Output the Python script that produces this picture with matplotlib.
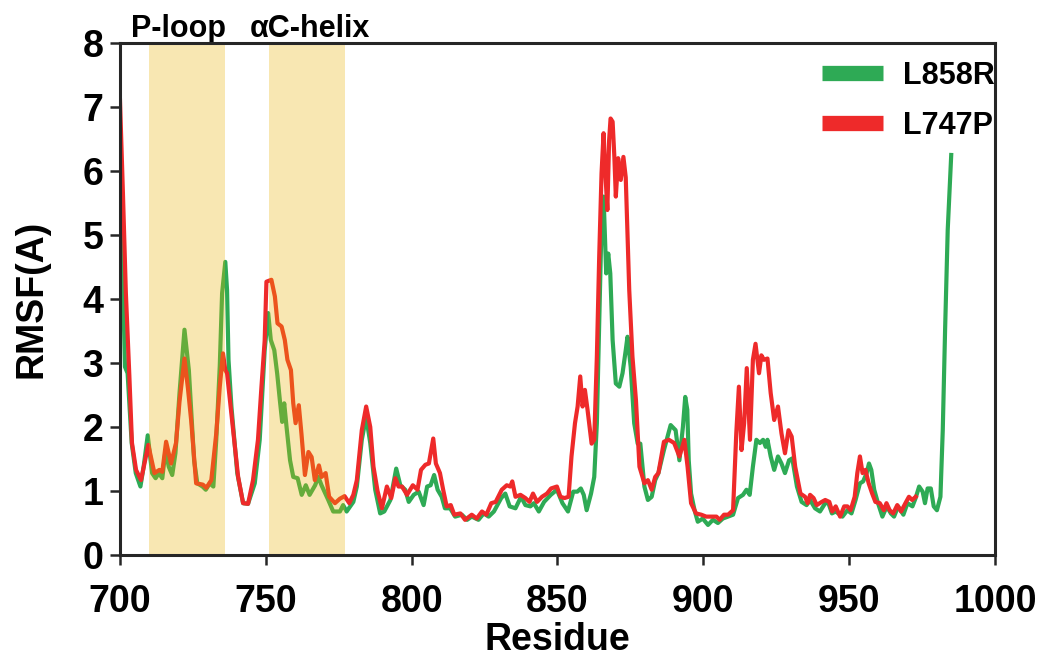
import matplotlib
matplotlib.use("Agg")
import matplotlib.pyplot as plt

# 字体设置
plt.rcParams['font.family'] = ['Liberation Sans', 'DejaVu Sans']
plt.rcParams['font.weight'] = 'bold'
plt.rcParams['axes.labelweight'] = 'bold'

# L747P (red) residue / RMSF
res_l747p = [700, 701, 702, 703.2, 704.1, 705.5, 707.2, 708.4, 709.7, 711.8, 713.5, 714.5, 715.8, 717.5,
             719.2, 720.4, 722.1, 723.3, 724.4, 726.1, 728.4, 729.6, 731.3, 733, 734.2, 735.3, 736.1,
             736.7, 738.8, 740.5, 742.2, 743.9, 745.6, 747.3, 748.5, 749.6, 750.2, 751.9, 753.1, 754,
             755.4, 756.5, 757.4, 758.6, 759.4, 760.2, 761.3, 762.2, 763.4, 764.6, 765.7, 766.8, 768.2,
             769.1, 770.5, 771.7, 773.7, 775.4, 777, 778.6, 780, 781.2, 782.9, 784.4, 785.8, 786.9,
             788.3, 789.8, 791.5, 793, 794.4, 795.5, 796.7, 798.4, 800.4, 802, 803.2, 804.7, 805.9,
             807.4, 808.3, 809.7, 810.8, 812, 813.4, 814.6, 816.7, 818.3, 820.6, 822.3, 824.1, 825.6,
             827.3, 828.8, 830.9, 832.6, 833.8, 834.5, 835.6, 837.3, 839, 840.4, 841.6, 843, 844.7,
             846.4, 847.8, 849.8, 851, 852.4, 853.8, 854.8, 856, 856.9, 857.8, 858.6, 859.4, 860.3,
             861.7, 862.6, 863.5, 864.3, 865.1, 865.8, 866.5, 867.1, 867.7, 868.2, 868.9, 869.5, 870,
             870.8, 871.7, 872.6, 873.4, 874.6, 875.7, 876.9, 878.1, 879.8, 881, 882.3, 883.5, 884.6,
             886.5, 888.2, 890, 891.8, 893.5, 894.6, 895.8, 897.5, 899.3, 901, 902.7, 904.5, 905.6,
             907.1, 908.5, 910.2, 911.3, 912.2, 913.1, 914, 914.9, 916, 917, 917.9, 919.1, 919.9,
             920.8, 922, 923.1, 924.3, 925.6, 926.8, 928, 929.2, 930.3, 931.5, 933.3, 934.9, 935.8,
             936.6, 937.8, 938.9, 940.6, 941.8, 943.2, 944.2, 945.4, 946.9, 948.3, 949.4, 950.5, 951.9,
             952.8, 953.7, 954.6, 955.6, 956.7, 957.9, 959, 960.5, 961.9, 962.8, 963.9, 965.1, 966.5,
             967.8, 969.3, 970.5, 971.6, 972.8]
rmsf_l747p = [7.1, 5.65, 4.1, 2.8, 1.75, 1.33, 1.17, 1.43, 1.72, 1.28, 1.33, 1.3, 1.77, 1.43,
              1.75, 2.4, 3.07, 2.6, 2.1, 1.12, 1.1, 1.05, 1.17, 1.9, 2.63, 3.15, 2.89,
              2.84, 1.95, 1.22, 0.81, 0.8, 1.17, 1.8, 2.63, 3.35, 4.27, 4.3, 4.04, 3.62,
              3.57, 3.36, 3.05, 2.89, 2.37, 2.06, 2.34, 1.9, 1.25, 1.61, 1.53, 1.17, 1.4,
              1.22, 1.28, 0.91, 0.81, 0.88, 0.92, 0.81, 0.94, 1.17, 1.95, 2.32, 2.0, 1.38,
              1.0, 0.73, 1.07, 0.89, 1.2, 1.07, 1.07, 0.94, 1.09, 1.02, 1.33, 1.41, 1.43,
              1.82, 1.43, 1.28, 1.02, 0.76, 0.78, 0.63, 0.65, 0.55, 0.63, 0.57, 0.68, 0.63,
              0.81, 0.83, 1.02, 1.09, 1.07, 1.15, 0.91, 0.94, 0.89, 0.83, 0.96, 0.83, 0.91,
              0.96, 1.04, 1.07, 0.91, 0.89, 0.91, 1.54, 2.06, 2.32, 2.79, 2.32, 2.58, 2.27,
              1.74, 1.8, 3.1, 4.66, 5.96, 6.59, 5.9, 5.39, 6.48, 6.82, 6.77, 6.22, 5.6,
              6.2, 5.86, 6.22, 5.9, 4.14, 3.1, 2.42, 1.38, 1.12, 1.17, 1.02, 1.22, 1.28,
              1.77, 1.8, 1.75, 1.54, 1.8, 1.38, 0.81, 0.65, 0.63, 0.6, 0.6, 0.6, 0.55,
              0.63, 0.63, 0.7, 1.9, 2.63, 1.64, 2.06, 2.92, 1.8, 3.05, 3.3, 2.84, 3.12,
              3.05, 3.07, 2.53, 2.11, 2.32, 1.9, 1.59, 1.95, 1.85, 1.38, 0.96, 0.91, 0.81,
              0.94, 0.89, 0.78, 0.83, 0.86, 0.83, 0.68, 0.76, 0.6, 0.76, 0.76, 0.7, 0.91,
              1.28, 1.54, 1.28, 1.33, 1.12, 0.96, 0.83, 0.81, 0.7, 0.81, 0.7, 0.65, 0.78,
              0.68, 0.81, 0.91, 0.86, 0.91]

# L858R (green)
res_l858r = [700, 701, 701.7, 702.6, 704, 705.4, 707, 708.1, 709.5, 711, 712.2, 713.3, 714.5, 715.6,
             716.7, 717.9, 719, 720.4, 722.1, 723.6, 725.4, 726.5, 728.3, 729.4, 730.8, 732, 733,
             734.2, 735, 736.1, 736.7, 737.2, 738.2, 740.2, 742.2, 743.9, 746.2, 747.9, 749.6, 750.8,
             751.7, 752.9, 753.9, 754.8, 755.6, 756.3, 757.1, 758.3, 759.4, 760.9, 762.3, 763.7, 765,
             766.9, 768, 769.1, 771.4, 773.1, 775.4, 776.5, 777.7, 780, 781.2, 782.9, 784.4, 785.8,
             787.5, 789.2, 790.6, 792.7, 794.7, 796.1, 797.8, 799, 800.7, 802.4, 804.1, 805.3, 806.5,
             807.7, 808.9, 810.3, 811.4, 813.2, 814.9, 817.2, 819, 820.6, 822.9, 824.7, 826.4, 828.2,
             830.7, 832.1, 833.6, 835.6, 837.5, 839, 840.7, 841.9, 843.6, 845.4, 847.7, 849.8, 851.7,
             853.6, 855.4, 856.8, 858, 859, 860, 861.5, 862.6, 863.5, 864.3, 865.1, 865.8, 866.2,
             866.7, 867.4, 868.1, 868.9, 870, 871.2, 872.3, 873.4, 874, 875.1, 876.3, 877.5, 878.4,
             879.8, 881, 882.3, 883.5, 884.6, 886.5, 888.8, 890.5, 891.8, 893, 893.8, 894.5, 895,
             895.8, 897, 898.1, 899.8, 901.6, 903.3, 905, 906.7, 908.5, 910.2, 911.9, 913.6, 914.8,
             915.9, 917, 918.2, 919.4, 920.5, 921.4, 922, 923.1, 924.3, 925.6, 926.8, 928, 929.4,
             930.5, 932.1, 933.7, 935.4, 936.6, 938.3, 940, 941.8, 942.9, 944.1, 945.4, 947.7, 949.4,
             950.8, 952.2, 953.7, 954.8, 956, 956.8, 957.6, 958.6, 959.9, 961.4, 962.9, 964.3, 965.4,
             966.8, 968.6, 970, 971.7, 972.8, 974, 975.2, 976, 976.9, 978, 979, 980.1, 981.3,
             982.1, 982.9, 983.8, 985]
rmsf_l858r = [6.0, 4.3, 2.94, 2.84, 1.75, 1.28, 1.07, 1.38, 1.87, 1.28, 1.2, 1.28, 1.2, 1.64,
              1.38, 1.25, 1.59, 2.53, 3.52, 2.89, 1.48, 1.12, 1.07, 1.02, 1.12, 1.07, 1.8,
              2.95, 4.09, 4.58, 4.14, 3.05, 2.32, 1.28, 0.81, 0.8, 1.12, 1.8, 3.2, 3.78,
              3.36, 3.2, 2.83, 2.42, 2.08, 2.37, 2.0, 1.48, 1.22, 1.2, 0.94, 1.09, 0.94,
              1.09, 1.22, 1.09, 0.86, 0.68, 0.68, 0.78, 0.68, 0.83, 1.07, 1.8, 2.16, 1.75,
              1.02, 0.65, 0.68, 0.86, 1.35, 1.09, 1.02, 0.83, 0.94, 0.99, 0.78, 1.07, 1.09,
              1.25, 1.02, 0.91, 0.73, 0.73, 0.6, 0.63, 0.55, 0.6, 0.55, 0.65, 0.6, 0.68,
              0.89, 0.96, 0.76, 0.73, 0.91, 0.78, 0.76, 0.81, 0.68, 0.83, 0.94, 1.02, 0.81,
              0.68, 0.99, 0.99, 1.04, 0.94, 0.7, 0.96, 1.22, 2.06, 3.62, 5.18, 5.6, 5.07,
              4.4, 4.71, 4.4, 3.36, 2.68, 2.63, 2.84, 3.2, 3.41, 2.94, 2.06, 1.74, 1.74,
              1.07, 0.86, 0.91, 1.17, 1.28, 1.64, 2.03, 1.95, 1.48, 2.0, 2.47, 2.27, 1.48,
              0.96, 0.7, 0.52, 0.57, 0.47, 0.55, 0.5, 0.57, 0.6, 0.63, 0.89, 0.94, 1.02,
              0.94, 1.38, 1.8, 1.75, 1.8, 1.69, 1.8, 1.54, 1.33, 1.54, 1.43, 1.28, 1.48,
              1.51, 1.07, 0.83, 0.78, 0.86, 0.73, 0.68, 0.81, 0.81, 0.65, 0.68, 0.6, 0.7,
              0.65, 0.86, 1.12, 1.15, 1.28, 1.43, 1.33, 1.02, 0.81, 0.6, 0.76, 0.65, 0.6,
              0.76, 0.63, 0.81, 0.76, 0.89, 1.07, 0.99, 0.81, 1.04, 1.04, 0.76, 0.7, 0.91,
              1.95, 3.52, 5.08, 6.25]

# 高亮区域
regions = [(710, 736), (751, 777)]
region_names = ['P-loop', 'αC-helix']
region_label_x = [720, 765]

green = '#2eaa55'
red = '#ee2a2a'

fig = plt.figure(figsize=(10.4, 6.58), dpi=100)
ax = fig.add_axes([0.1154, 0.1565, 0.8413, 0.7782])

ax.plot(res_l858r, rmsf_l858r, color=green, lw=3, label='L858R', zorder=2)
ax.plot(res_l747p, rmsf_l747p, color=red, lw=3, label='L747P', zorder=2)

# shaded bands sit on top of the lines
for (a, b), name, lx in zip(regions, region_names, region_label_x):
    ax.axvspan(a, b, color='#e8b200', alpha=0.3, lw=0, zorder=3)
    ax.text(lx, 8.09, name, ha='center', va='baseline', fontsize=22,
            fontweight='bold', clip_on=False)

ax.set_xlim(700, 1000)
ax.set_ylim(0, 8)
ax.set_xticks(range(700, 1001, 50))
ax.set_yticks(range(0, 9))
ax.set_xlabel('Residue', fontsize=27, labelpad=1)
ax.set_ylabel('RMSF(A)', fontsize=27, labelpad=24)
ax.tick_params(direction='out', length=7, width=1.8, labelsize=27, pad=5, color='#262626')
ax.tick_params(axis='x', pad=14)
for sp in ax.spines.values():
    sp.set_linewidth(2.2)
    sp.set_color('#262626')
    sp.set_zorder(4)

leg = ax.legend(loc='upper right', bbox_to_anchor=(1.0, 0.965), frameon=False, fontsize=22,
                handlelength=2.0, handletextpad=0.65, labelspacing=0.65,
                borderaxespad=0, borderpad=0)
for ln in leg.get_lines():
    ln.set_linewidth(11)
    ln.set_solid_capstyle('butt')

plt.savefig('out.png', dpi=100)
